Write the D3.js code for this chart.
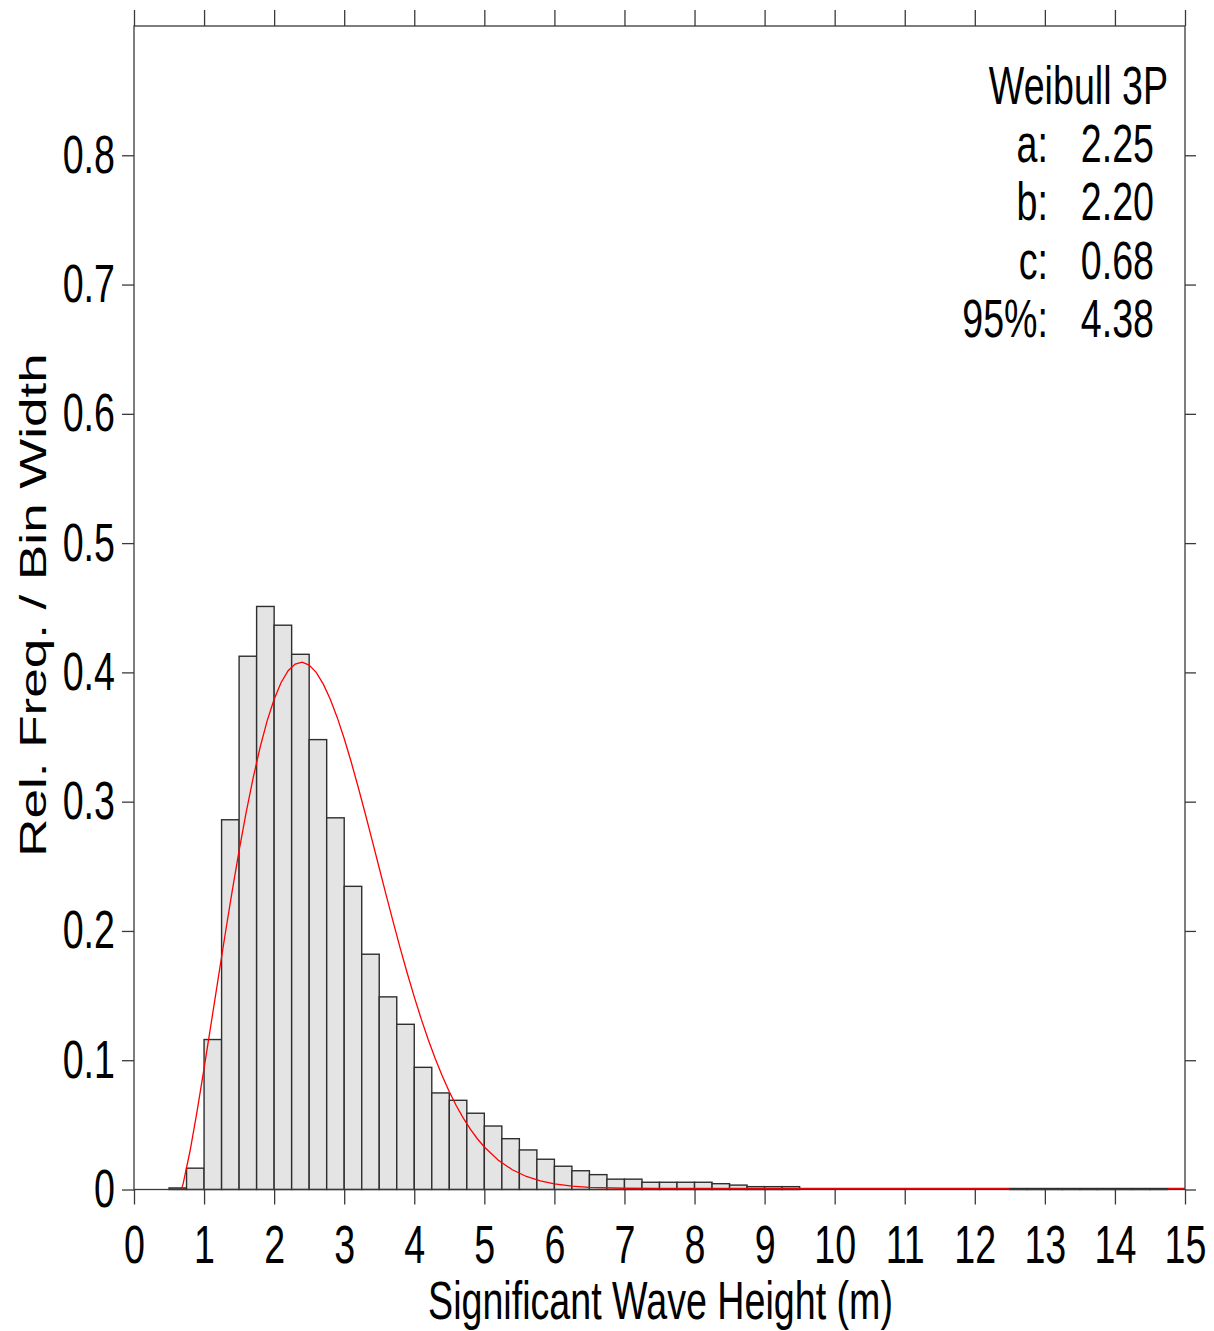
<!DOCTYPE html>
<html>
<head>
<meta charset="utf-8">
<script src="https://cdn.jsdelivr.net/npm/d3@7"></script>
<style>
  html, body { margin: 0; padding: 0; background: #fff; }
  svg { display: block; }
  text { font-family: "Liberation Sans", Arial, sans-serif; fill: #000; }
</style>
</head>
<body>
<svg id="chart" width="1214" height="1331"></svg>
<script>
// ---- data ----
const binStarts = [0.5, 0.75, 1.0, 1.25, 1.5, 1.75, 2.0, 2.25, 2.5, 2.75, 3.0, 3.25, 3.5, 3.75,
  4.0, 4.25, 4.5, 4.75, 5.0, 5.25, 5.5, 5.75, 6.0, 6.25, 6.5, 6.75, 7.0, 7.25, 7.5, 7.75,
  8.0, 8.25, 8.5, 8.75, 9.0, 9.25, 9.5, 9.75, 10.0, 10.25, 10.5, 10.75, 11.0, 11.25, 11.5, 11.75,
  12.0, 12.25, 12.5, 12.75, 13.0, 13.25, 13.5, 13.75, 14.0, 14.25, 14.5];
const binWidth = 0.25;
const relFreq = [0.0012, 0.0165, 0.116, 0.286, 0.4125, 0.451, 0.4365, 0.414, 0.348, 0.2875, 0.2345, 0.182, 0.149, 0.1278,
  0.0945, 0.0747, 0.069, 0.059, 0.0491, 0.0393, 0.0306, 0.0234, 0.018, 0.0145, 0.0115, 0.008, 0.008, 0.0056, 0.0056, 0.0056,
  0.0056, 0.0045, 0.0034, 0.0022, 0.0022, 0.0022, 0, 0, 0, 0, 0, 0, 0, 0, 0, 0,
  0, 0, 0.0006, 0.0006, 0.0006, 0.0006, 0.0006, 0.0006, 0.0006, 0.0006, 0.0006];

const fitX = [0.68, 0.7, 0.8, 0.9, 1.0, 1.1, 1.2, 1.3, 1.4, 1.5, 1.6, 1.7, 1.8, 1.9, 2.0, 2.1, 2.2, 2.3, 2.4, 2.5,
  2.6, 2.7, 2.8, 2.9, 3.0, 3.1, 3.2, 3.3, 3.4, 3.5, 3.6, 3.7, 3.8, 3.9, 4.0, 4.1, 4.2, 4.3, 4.4, 4.5,
  4.6, 4.7, 4.8, 4.9, 5.0, 5.2, 5.4, 5.6, 5.8, 6.0, 6.25, 6.5, 7.0, 7.5, 15.0];
const fitY = [0, 0.0034, 0.029, 0.0597, 0.0929, 0.1273, 0.162, 0.1963, 0.2297, 0.2613, 0.2907, 0.3175, 0.3413, 0.3617, 0.3784, 0.3914, 0.4005, 0.4057, 0.4071, 0.4049,
  0.3992, 0.3903, 0.3786, 0.3644, 0.3481, 0.3299, 0.3104, 0.2901, 0.2691, 0.2479, 0.2268, 0.206, 0.1858, 0.1665, 0.1482, 0.131, 0.1151, 0.1004, 0.087, 0.0749,
  0.064, 0.0544, 0.0459, 0.0385, 0.0321, 0.0218, 0.0145, 0.0093, 0.0059, 0.0036, 0.0019, 0.0009, 0.0002, 0.0, 0.0];

const xTicks = [0, 1, 2, 3, 4, 5, 6, 7, 8, 9, 10, 11, 12, 13, 14, 15];
const xTickLabels = ["0", "1", "2", "3", "4", "5", "6", "7", "8", "9", "10", "11", "12", "13", "14", "15"];
const yTicks = [0, 0.1, 0.2, 0.3, 0.4, 0.5, 0.6, 0.7, 0.8];
const yTickLabels = ["0", "0.1", "0.2", "0.3", "0.4", "0.5", "0.6", "0.7", "0.8"];

const legendTitle = "Weibull 3P";
const legendKeys = ["a:", "b:", "c:", "95%:"];
const legendValues = ["2.25", "2.20", "0.68", "4.38"];

const xTitle = "Significant Wave Height (m)";
const yTitle = "Rel. Freq. / Bin Width";

// ---- layout ----
const L = 134, R = 1185, T = 26, B = 1189.5;
const FS = 53, SX = 0.71;
const lineCol = "#3a3a3a";

const svg = d3.select("#chart");
const x = d3.scaleLinear().domain([0, 15]).range([L, R]);
const y = d3.scaleLinear().domain([0, 0.9]).range([B, T]);

const bins = binStarts.map((s, i) => ({ x0: s, x1: s + binWidth, v: relFreq[i] })).filter(d => d.v > 0);
const fit = fitX.map((v, i) => [v, fitY[i]]);

function drawBars(g, data) {
  g.selectAll("rect").data(data).join("rect")
    .attr("x", d => x(d.x0))
    .attr("width", d => x(d.x1) - x(d.x0))
    .attr("y", d => y(d.v))
    .attr("height", d => y(0) - y(d.v))
    .attr("fill", "#e4e4e4")
    .attr("stroke", "#2e2e2e")
    .attr("stroke-width", 1.4);
}

drawBars(svg.append("g"), bins.filter(d => d.x0 < 12));

svg.append("path")
  .datum(fit)
  .attr("fill", "none")
  .attr("stroke", "#ff0000")
  .attr("stroke-width", 1.3)
  .attr("d", d3.line().x(d => x(d[0])).y(d => y(d[1]) - 1));

drawBars(svg.append("g"), bins.filter(d => d.x0 >= 12));

// ---- frame ----
svg.append("rect")
  .attr("x", L).attr("y", T).attr("width", R - L).attr("height", B - T)
  .attr("fill", "none").attr("stroke", lineCol).attr("stroke-width", 1.3);

// ---- axes ----
function styleAxis(g) {
  g.select(".domain").remove();
  g.selectAll(".tick line").attr("stroke", lineCol).attr("stroke-width", 1.3);
}

const gB = svg.append("g").attr("transform", `translate(0,${B})`)
  .call(d3.axisBottom(x).tickValues(xTicks).tickSize(15).tickFormat((d, i) => xTickLabels[i]));
styleAxis(gB);
gB.selectAll(".tick text")
  .attr("y", 0).attr("dy", null).attr("x", 0)
  .attr("text-anchor", "middle")
  .attr("font-size", FS)
  .attr("fill", "#000")
  .attr("transform", `translate(0,${1263 - B}) scale(${SX},1)`);

const gT = svg.append("g").attr("transform", `translate(0,${T})`)
  .call(d3.axisTop(x).tickValues(xTicks).tickSize(16).tickFormat(""));
styleAxis(gT);

const gL = svg.append("g").attr("transform", `translate(${L},0)`)
  .call(d3.axisLeft(y).tickValues(yTicks).tickSize(12).tickFormat((d, i) => yTickLabels[i]));
styleAxis(gL);
gL.selectAll(".tick text")
  .attr("x", 0).attr("dy", null).attr("y", 0)
  .attr("text-anchor", "end")
  .attr("font-size", FS)
  .attr("fill", "#000")
  .attr("transform", `translate(-19,17) scale(${SX},1)`);

const gR = svg.append("g").attr("transform", `translate(${R},0)`)
  .call(d3.axisRight(y).tickValues(yTicks).tickSize(11).tickFormat(""));
styleAxis(gR);

// ---- titles ----
svg.append("text")
  .attr("transform", `translate(${(L + R) / 2 + 1},1319) scale(${SX},1)`)
  .attr("text-anchor", "middle")
  .attr("font-size", FS)
  .text(xTitle);

svg.append("text")
  .attr("transform", `translate(46,605) rotate(-90) scale(1,${SX})`)
  .attr("text-anchor", "middle")
  .attr("font-size", FS)
  .text(yTitle);

// ---- legend ----
svg.append("text")
  .attr("transform", `translate(1168,104) scale(${SX},1)`)
  .attr("text-anchor", "end")
  .attr("font-size", FS)
  .text(legendTitle);

const rows = svg.append("g").selectAll("g").data(legendKeys).join("g")
  .attr("transform", (d, i) => `translate(0,${162 + i * 58.3})`);
rows.append("text")
  .attr("transform", `translate(1048,0) scale(${SX},1)`)
  .attr("text-anchor", "end")
  .attr("font-size", FS)
  .text(d => d);
rows.append("text")
  .attr("transform", `translate(1154,0) scale(${SX},1)`)
  .attr("text-anchor", "end")
  .attr("font-size", FS)
  .text((d, i) => legendValues[i]);
</script>
</body>
</html>
